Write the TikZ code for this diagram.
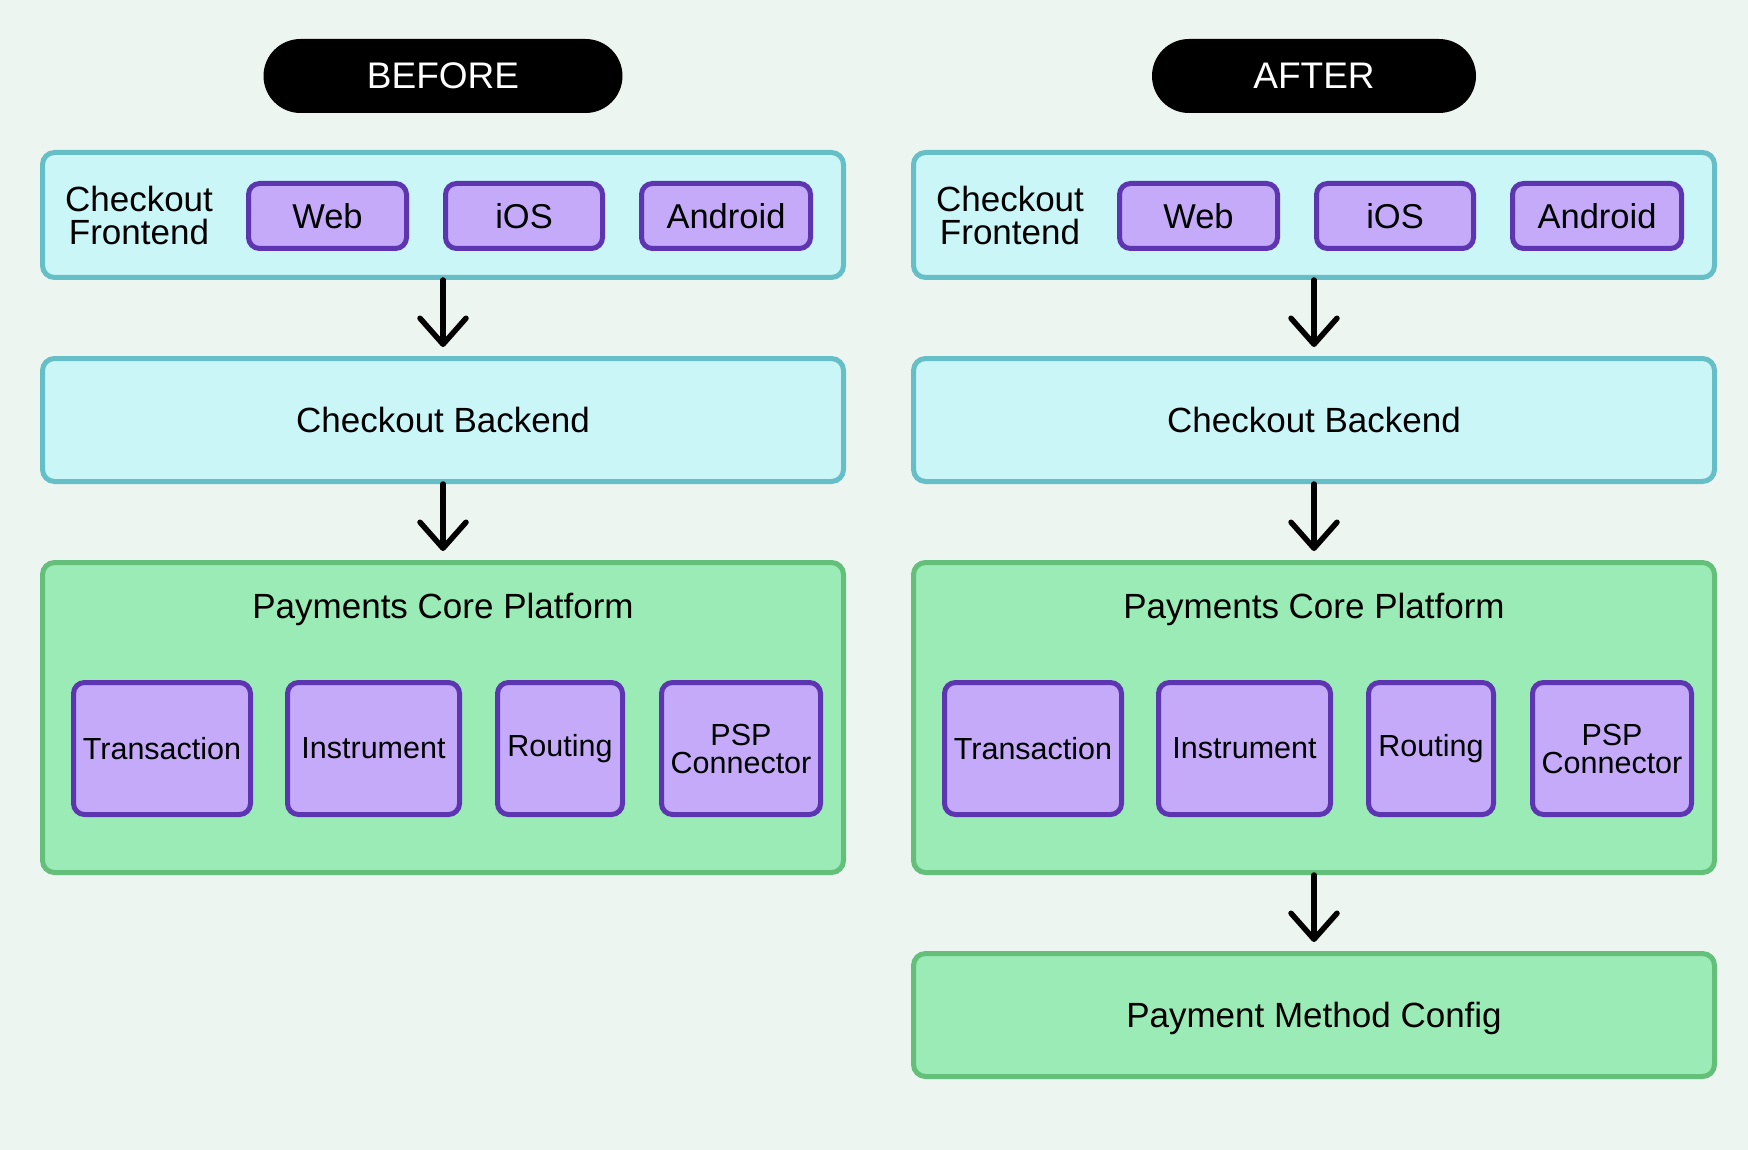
\documentclass[tikz,border=0pt]{standalone}
\usepackage{fontspec}
\setmainfont{Liberation Sans}
\usepackage{tikz}
\usetikzlibrary{arrows.meta, positioning}

\definecolor{bgcol}{HTML}{EDF5F1}
\definecolor{tealfill}{HTML}{CBF6F8}
\definecolor{tealline}{HTML}{66BEC6}
\definecolor{greenfill}{HTML}{9AEBB5}
\definecolor{greenline}{HTML}{63BF79}
\definecolor{purplefill}{HTML}{C5AAF9}
\definecolor{purpleline}{HTML}{5E35B1}

\tikzset{
  pill/.style={fill=black, text=white, rounded corners=37pt, minimum height=74pt, font=\fontsize{37}{40}\selectfont},
  tealbox/.style={draw=tealline, fill=tealfill, line width=5pt, rounded corners=12pt, minimum width=801pt},
  greenbox/.style={draw=greenline, fill=greenfill, line width=5pt, rounded corners=12pt, minimum width=801pt},
  chip/.style={draw=purpleline, fill=purplefill, line width=5pt, rounded corners=11pt, minimum height=65pt, font=\fontsize{34.5}{36}\selectfont},
  module/.style={draw=purpleline, fill=purplefill, line width=5pt, rounded corners=11pt, minimum height=132pt, align=center, font=\fontsize{30.5}{28}\selectfont},
  flow/.style={line width=5.5pt, line cap=round, -{Straight Barb[length=26pt, width=46pt, line cap=round, line join=round]}, shorten >=9pt},
  big/.style={font=\fontsize{35}{33}\selectfont}
}

\begin{document}
\begin{tikzpicture}[x=1pt, y=-1pt, inner sep=0pt]
\fill[bgcol] (0,0) rectangle (1748,1150);
\useasboundingbox (0,0) rectangle (1748,1150);

% before
\begin{scope}
\node[pill, minimum width=359pt] (bHead) at (443,76) {BEFORE};
\node[tealbox, minimum height=125pt] (bFront) at (443,215) {};
\node[big, align=center] (bFrontLbl) at (139,215) {Checkout\\Frontend};
\node[chip, minimum width=158pt] (bWeb) at (327.5,216) {Web};
\node[chip, minimum width=157pt] (bIos) at (524,216) {iOS};
\node[chip, minimum width=169pt] (bAndroid) at (726,216) {Android};
\node[tealbox, big, minimum height=123pt] (bBack) at (443,420) {Checkout Backend};
\node[greenbox, minimum height=310pt] (bCore) at (443,717.5) {};
\node[big] (bCoreLbl) at (443,609) {Payments Core Platform};
\node[module, minimum width=177pt] (bTrans) at (162,748.5) {Transaction};
\node[module, minimum width=172pt] (bInstr) at (373.5,748.5) {Instrument};
\node[module, minimum width=125pt] (bRout) at (560,748.5) {Routing};
\node[module, minimum width=159pt] (bPsp) at (741,748.5) {PSP\\Connector};
\draw[flow] (bFront.south) -- (bBack.north);
\draw[flow] (bBack.south) -- (bCore.north);
\end{scope}

% after
\begin{scope}[xshift=871pt]
\node[pill, minimum width=324pt] (aHead) at (443,76) {AFTER};
\node[tealbox, minimum height=125pt] (aFront) at (443,215) {};
\node[big, align=center] (aFrontLbl) at (139,215) {Checkout\\Frontend};
\node[chip, minimum width=158pt] (aWeb) at (327.5,216) {Web};
\node[chip, minimum width=157pt] (aIos) at (524,216) {iOS};
\node[chip, minimum width=169pt] (aAndroid) at (726,216) {Android};
\node[tealbox, big, minimum height=123pt] (aBack) at (443,420) {Checkout Backend};
\node[greenbox, minimum height=310pt] (aCore) at (443,717.5) {};
\node[big] (aCoreLbl) at (443,609) {Payments Core Platform};
\node[module, minimum width=177pt] (aTrans) at (162,748.5) {Transaction};
\node[module, minimum width=172pt] (aInstr) at (373.5,748.5) {Instrument};
\node[module, minimum width=125pt] (aRout) at (560,748.5) {Routing};
\node[module, minimum width=159pt] (aPsp) at (741,748.5) {PSP\\Connector};
\node[greenbox, big, minimum height=123pt, text depth=-2pt] (aConfig) at (443,1015) {Payment Method Config};
\draw[flow] (aFront.south) -- (aBack.north);
\draw[flow] (aBack.south) -- (aCore.north);
\draw[flow] (aCore.south) -- (aConfig.north);
\end{scope}
\end{tikzpicture}
\end{document}
